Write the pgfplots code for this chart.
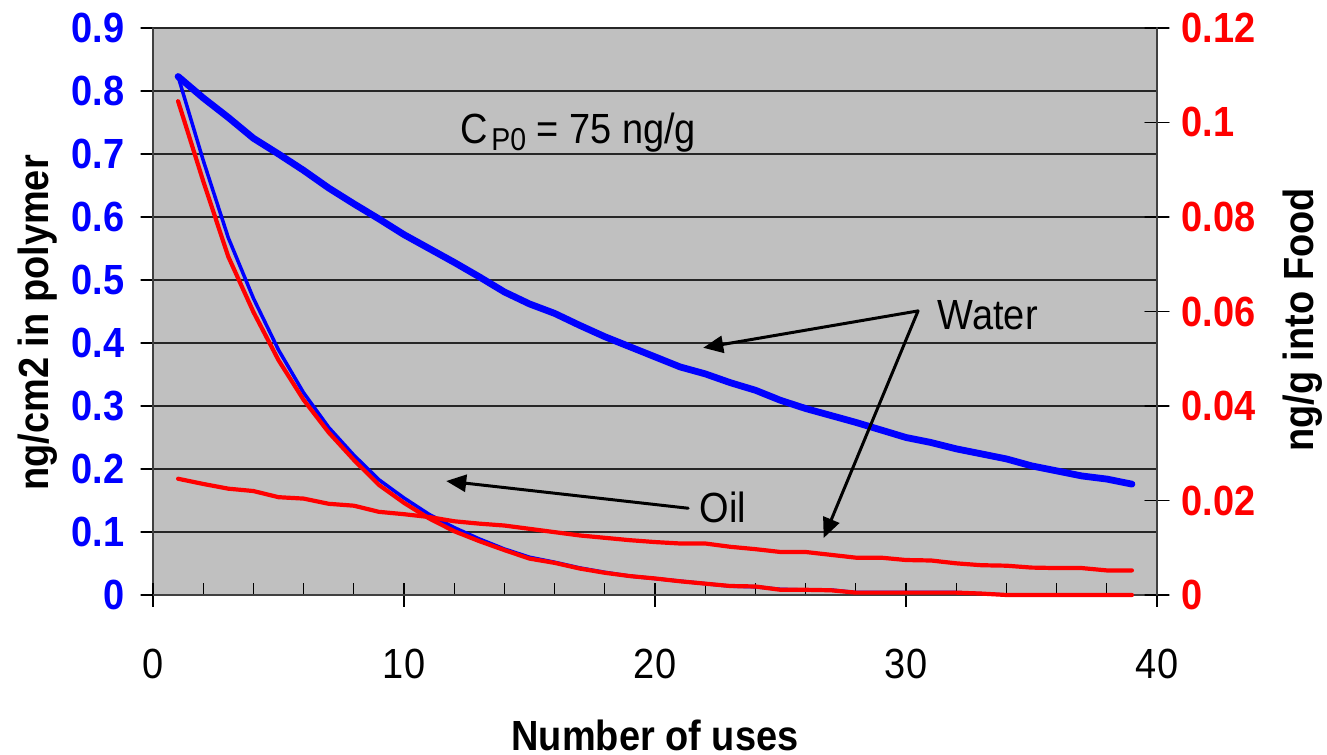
\documentclass[border=0pt]{standalone}
\usepackage{fontspec}
\setmainfont[FakeStretch=0.9]{Liberation Sans}
\usepackage{pgfplots}
\pgfplotsset{compat=1.18}
\usetikzlibrary{arrows.meta}
\definecolor{plotbg}{HTML}{C0C0C0}
\definecolor{axisgray}{HTML}{404040}

\pgfplotstableread{
x  water  oil
1  0.823  0.823
2  0.789  0.690
3  0.758  0.567
4  0.725  0.471
5  0.700  0.389
6  0.674  0.321
7  0.646  0.266
8  0.621  0.222
9  0.597  0.183
10 0.572  0.154
11 0.550  0.128
12 0.528  0.107
13 0.505  0.089
14 0.481  0.073
15 0.462  0.060
16 0.447  0.052
17 0.428  0.043
18 0.410  0.036
19 0.394  0.030
20 0.378  0.026
21 0.362  0.022
22 0.351  0.018
23 0.337  0.014
24 0.325  0.013
25 0.309  0.009
26 0.296  0.008
27 0.285  0.008
28 0.274  0.004
29 0.262  0.004
30 0.250  0.004
31 0.242  0.004
32 0.232  0.004
33 0.224  0.002
34 0.216  0.000
35 0.205  0.000
36 0.197  0.000
37 0.189  0.000
38 0.184  0.000
39 0.176  0.000
}\polymer

\pgfplotstableread{
x  water   oil
1  0.0246  0.1045
2  0.0235  0.0876
3  0.0225  0.0716
4  0.0220  0.0599
5  0.0207  0.0497
6  0.0204  0.0413
7  0.0193  0.0344
8  0.0189  0.0286
9  0.0176  0.0233
10 0.0171  0.0195
11 0.0165  0.0162
12 0.0156  0.0135
13 0.0151  0.0114
14 0.0147  0.0095
15 0.0140  0.0077
16 0.0133  0.0068
17 0.0126  0.0056
18 0.0121  0.0047
19 0.0116  0.0040
20 0.0112  0.0035
21 0.0109  0.0029
22 0.0109  0.0024
23 0.0102  0.0019
24 0.0097  0.0018
25 0.0091  0.0011
26 0.0091  0.0011
27 0.0085  0.0010
28 0.0079  0.0005
29 0.0079  0.0005
30 0.0074  0.0005
31 0.0073  0.0005
32 0.0067  0.0005
33 0.0063  0.0003
34 0.0062  0.0000
35 0.0058  0.0000
36 0.0057  0.0000
37 0.0057  0.0000
38 0.0052  0.0000
39 0.0052  0.0000
}\food

\begin{document}
\begin{tikzpicture}
\pgfplotsset{
  every axis/.append style={
    scale only axis, width=100.4mm, height=56.7mm,
    xmin=0, xmax=40,
    axis line style={axisgray, line width=0.2mm},
    tick style={black, line width=0.12mm},
  },
  every axis y label/.style={rotate=90, anchor=center,
    font=\fontsize{12}{14}\selectfont\bfseries},
}
% left axis: concentration in the polymer
\begin{axis}[
  name=main,
  ymin=0, ymax=0.9,
  axis background/.style={fill=plotbg},
  axis y line*=left, axis x line=none,
  xtick=\empty,
  ytick={0,0.1,0.2,0.3,0.4,0.5,0.6,0.7,0.8,0.9},
  yticklabels={0,0.1,0.2,0.3,0.4,0.5,0.6,0.7,0.8,0.9},
  yticklabel style={font=\fontsize{12}{14}\selectfont\bfseries, text=blue, xshift=-0.4mm},
  tick align=outside, major tick length=1.2mm,
  ymajorgrids, major grid style={black!85, line width=0.12mm},
  ylabel={ng/cm2 in polymer},
  every axis y label/.append style={at={(axis description cs:-0.1145,0.48)}},
  line join=round, line cap=round,
]
\addplot[blue, line width=0.68mm] table[x=x, y=water] {\polymer};
\addplot[blue, line width=0.35mm] table[x=x, y=oil] {\polymer};
\end{axis}
% bottom axis: number of uses
\begin{axis}[
  ymin=0, ymax=1,
  axis x line*=bottom, axis y line=none,
  xtick={0,10,20,30,40},
  xticklabels={0,10,20,30,40},
  minor xtick={2,4,6,8,12,14,16,18,22,24,26,28,32,34,36,38},
  tick align=center, major tick length=2.4mm, minor tick length=1.2mm,
  minor tick style={yshift=0.6mm},
  xticklabel style={font=\fontsize{12}{14}\selectfont, text=black, yshift=-3mm},
  xlabel={Number of uses},
  xlabel style={font=\fontsize{12}{14}\selectfont\bfseries,
    at={(axis description cs:0.5,-0.247)}, anchor=center},
]
\end{axis}
% right axis: amount transferred into the food
\begin{axis}[
  ymin=0, ymax=0.12,
  axis y line*=right, axis x line=none,
  xtick=\empty,
  ytick={0,0.02,0.04,0.06,0.08,0.1,0.12},
  yticklabels={0,0.02,0.04,0.06,0.08,0.1,0.12},
  yticklabel style={font=\fontsize{12}{14}\selectfont\bfseries, text=red},
  tick align=center, major tick length=2.4mm,
  ylabel={ng/g into Food},
  every axis y label/.append style={at={(axis description cs:1.1454,0.485)}},
  clip=false,
  line join=round, line cap=round,
]
\addplot[red, line width=0.42mm] table[x=x, y=oil] {\food};
\addplot[red, line width=0.42mm] table[x=x, y=water] {\food};

\node[anchor=base west, inner sep=0, font=\fontsize{12}{14}\selectfont]
  at (axis description cs:0.306,0.797)
  {C\hspace{0.3mm}\raisebox{-0.7mm}{\fontsize{9}{10}\selectfont P0} = 75 ng/g};
\node[anchor=base west, inner sep=0, font=\fontsize{12}{14}\selectfont]
  at (axis description cs:0.781,0.469) {Water};
\node[anchor=base west, inner sep=0, font=\fontsize{12}{14}\selectfont]
  at (axis description cs:0.544,0.127) {Oil};
\draw[black, line width=0.3mm, -{Triangle[length=2mm, width=1.7mm]}]
  (axis description cs:0.762,0.501) -- (axis description cs:0.548,0.436);
\draw[black, line width=0.3mm, -{Triangle[length=2mm, width=1.7mm]}]
  (axis description cs:0.762,0.501) -- (axis description cs:0.668,0.1005);
\draw[black, line width=0.3mm, -{Triangle[length=2mm, width=1.7mm]}]
  (axis description cs:0.533,0.153) -- (axis description cs:0.292,0.201);
\end{axis}
\pgfresetboundingbox
\path ([shift={(-15.3mm,-16mm)}]main.south west) rectangle ([shift={(17mm,2.8mm)}]main.north east);
\end{tikzpicture}
\end{document}
